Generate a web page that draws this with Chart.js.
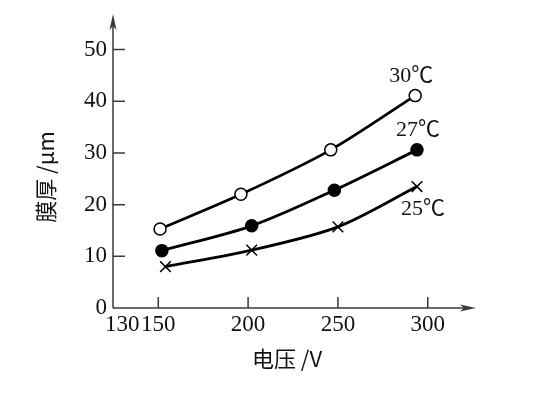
<!DOCTYPE html>
<html>
<head>
<meta charset="utf-8">
<script src="https://cdn.jsdelivr.net/npm/chart.js@4/dist/chart.umd.min.js"></script>
<style>
    html, body {
        margin: 0;
        padding: 0;
        background: #ffffff;
    }
    #wrap {
        width: 535px;
        height: 410px;
    }
</style>
</head>
<body>
<div id="wrap">
    <canvas id="filmChart" width="535" height="410"></canvas>
</div>
<script>

// voltage (V) and film thickness (um)
const voltage30 = [151, 196, 246, 293];
const thickness30 = [15.3, 22.0, 30.6, 41.1];

const voltage27 = [152, 202, 248, 294];
const thickness27 = [11.1, 15.9, 22.8, 30.6];

const voltage25 = [154, 202, 250, 294];
const thickness25 = [8.0, 11.2, 15.7, 23.5];

const seriesLabels = ["30℃", "27℃", "25℃"];

const xTickValues = [130, 150, 200, 250, 300];
const yTickValues = [0, 10, 20, 30, 40, 50];

const xTitle = "电压 /V";
const yTitle = "膜厚 /μm";

const serifFont = "'Liberation Serif', 'Noto Sans CJK SC', serif";
const cjkFont = "'Noto Sans CJK SC', 'DejaVu Sans', sans-serif";
const ink = "#111111";

function toPoints(xs, ys) {
    return xs.map(
        (x, i) => ({ x: x, y: ys[i] })
    );
}

// axis lines with arrows, inward tick marks
const axisArrows = {
    id: "axisArrows",
    afterDraw(chart) {
        const ctx = chart.ctx;
        const area = chart.chartArea;
        const xs = chart.scales.x;
        const ys = chart.scales.y;

        ctx.save();
        ctx.strokeStyle = "#3a3a3a";
        ctx.fillStyle = "#3a3a3a";
        ctx.lineWidth = 1.5;

        ctx.beginPath();
        ctx.moveTo(area.left, area.bottom);
        ctx.lineTo(area.left, 22);
        ctx.moveTo(area.left, area.bottom);
        ctx.lineTo(468, area.bottom);
        ctx.stroke();

        ctx.beginPath();
        ctx.moveTo(area.left, 14);
        ctx.lineTo(area.left - 3.5, 30);
        ctx.lineTo(area.left, 26);
        ctx.lineTo(area.left + 3.5, 30);
        ctx.closePath();
        ctx.fill();

        ctx.beginPath();
        ctx.moveTo(476, area.bottom);
        ctx.lineTo(460, area.bottom - 3.5);
        ctx.lineTo(464, area.bottom);
        ctx.lineTo(460, area.bottom + 3.5);
        ctx.closePath();
        ctx.fill();

        ctx.beginPath();
        yTickValues.forEach(v => {
            if (v === 0) return;
            const py = ys.getPixelForValue(v);
            ctx.moveTo(area.left, py);
            ctx.lineTo(area.left + 12, py);
        });
        xTickValues.forEach(v => {
            if (v === 130) return;
            const px = xs.getPixelForValue(v);
            ctx.moveTo(px, area.bottom);
            ctx.lineTo(px, area.bottom - 11);
        });
        ctx.stroke();
        ctx.restore();
    }
};

// temperature labels beside the last point of each curve
const labelOffsets = [
    [-4, -19],
    [1, -20],
    [6, 23]
];

const curveLabels = {
    id: "curveLabels",
    afterDatasetsDraw(chart) {
        const ctx = chart.ctx;
        ctx.save();
        ctx.fillStyle = ink;
        ctx.font = "22px " + serifFont;
        ctx.textAlign = "center";
        ctx.textBaseline = "middle";
        chart.data.datasets.forEach((ds, i) => {
            const meta = chart.getDatasetMeta(i);
            const last = meta.data[meta.data.length - 1];
            ctx.fillText(
                seriesLabels[i],
                last.x + labelOffsets[i][0],
                last.y + labelOffsets[i][1]
            );
        });
        ctx.restore();
    }
};

function lineSet(points, style, fill, radius) {
    return {
        data: points,
        showLine: true,
        tension: 0.3,
        borderColor: "#000000",
        borderWidth: 2.8,
        pointStyle: style,
        pointRadius: radius,
        pointBackgroundColor: fill,
        pointBorderColor: "#000000",
        pointBorderWidth: 1.5,
        fill: false
    };
}

new Chart(document.getElementById("filmChart"), {
    type: "scatter",
    data: {
        datasets: [
            lineSet(toPoints(voltage30, thickness30), "circle", "#ffffff", 6),
            lineSet(toPoints(voltage27, thickness27), "circle", "#000000", 6),
            lineSet(toPoints(voltage25, thickness25), "crossRot", "#000000", 7.5)
        ]
    },
    options: {
        responsive: false,
        animation: false,
        layout: {
            padding: { top: 46, right: 74, bottom: 0, left: 0 }
        },
        plugins: {
            legend: { display: false },
            tooltip: { enabled: false }
        },
        scales: {
            x: {
                type: "linear",
                min: 124.8,
                max: 318.5,
                afterFit(scale) {
                    scale.height = 102;
                },
                afterBuildTicks(scale) {
                    scale.ticks = xTickValues.map(v => ({ value: v }));
                },
                grid: { display: false, drawTicks: false },
                border: { display: false },
                ticks: {
                    padding: 3,
                    color: ink,
                    font: { family: serifFont, size: 23 },
                    callback: v => String(v)
                },
                title: {
                    display: true,
                    text: xTitle,
                    color: ink,
                    font: { family: cjkFont, size: 22 },
                    padding: { top: 0, bottom: 38 }
                }
            },
            y: {
                type: "linear",
                min: 0,
                max: 50.7,
                afterFit(scale) {
                    scale.width = 113;
                },
                afterBuildTicks(scale) {
                    scale.ticks = yTickValues.map(v => ({ value: v }));
                },
                grid: { display: false, drawTicks: false },
                border: { display: false },
                ticks: {
                    padding: 6,
                    color: ink,
                    font: { family: serifFont, size: 23 },
                    callback: v => String(v)
                },
                title: {
                    display: true,
                    text: yTitle,
                    color: ink,
                    font: { family: cjkFont, size: 22 },
                    padding: { top: 32, bottom: 0 }
                }
            }
        }
    },
    plugins: [axisArrows, curveLabels]
});

</script>
</body>
</html>
